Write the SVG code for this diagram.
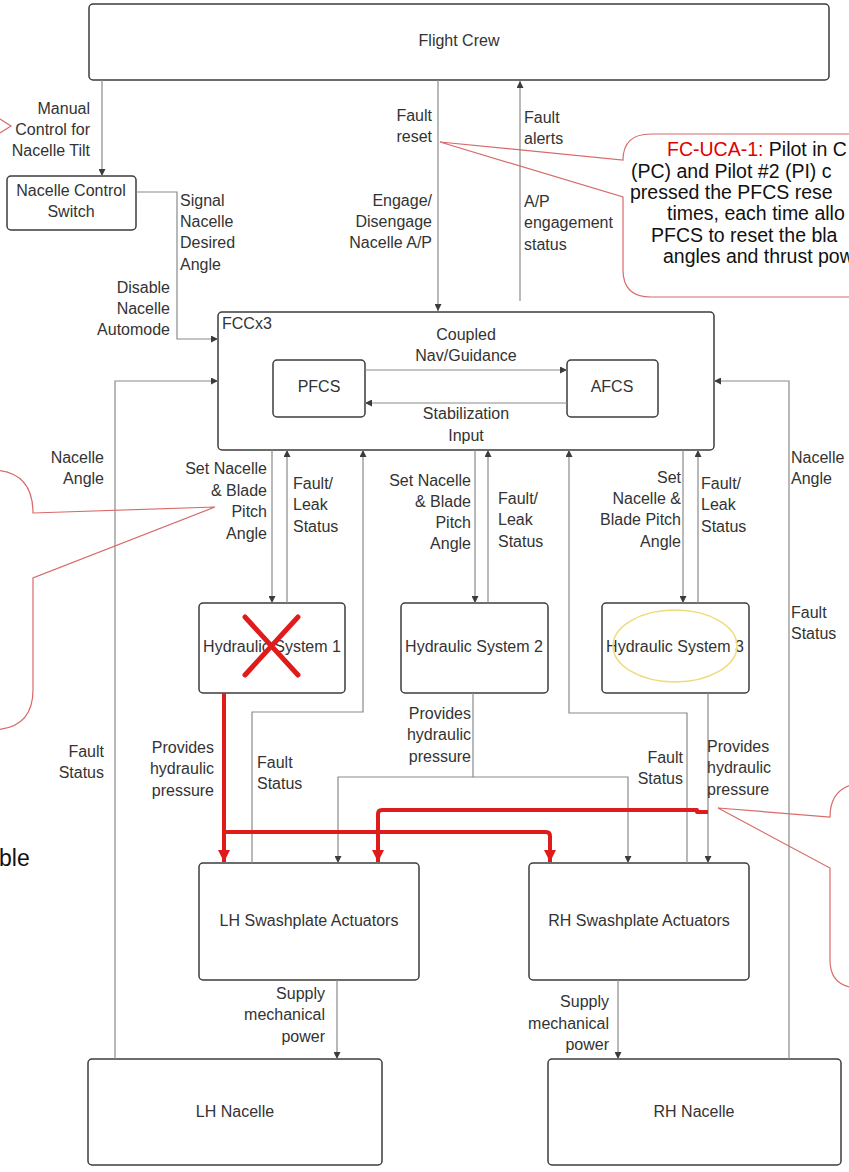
<svg xmlns="http://www.w3.org/2000/svg" width="849" height="1172" viewBox="0 0 849 1172">
  <style>
    .box { fill: #ffffff; stroke: #3c3c3c; stroke-width: 1.5; }
    .frame { fill: none; stroke: #3c3c3c; stroke-width: 1.5; }
    .lbl { font-family: "Liberation Sans", Arial, sans-serif; font-size: 16px; fill: #333333; }
    .mid { text-anchor: middle; }
    .end { text-anchor: end; }
    .wire { fill: none; stroke: #8a8a8a; stroke-width: 1.2; }
    .hot { fill: none; stroke: #e01b1b; stroke-width: 4; stroke-linejoin: round; }
    .note { fill: none; stroke: #d86a6a; stroke-width: 1.2; }
    .ntxt { font-family: "Liberation Sans", Arial, sans-serif; font-size: 19.5px; fill: #111111; }
  </style>
  <defs>
    <marker id="arr" viewBox="0 0 10 10" refX="10" refY="5" markerWidth="8" markerHeight="7" markerUnits="userSpaceOnUse" orient="auto">
      <path d="M0,0 L10,5 L0,10 z" fill="#3c3c3c"/>
    </marker>
    <marker id="arrRed" viewBox="0 0 10 10" refX="10" refY="5" markerWidth="14" markerHeight="12" markerUnits="userSpaceOnUse" orient="auto">
      <path d="M0,0 L10,5 L0,10 z" fill="#e01b1b"/>
    </marker>
  </defs>

  <rect width="849" height="1172" fill="#ffffff"/>

  <!-- nodes -->
  <g id="flight-crew">
    <rect class="box" x="89" y="4" width="740" height="76" rx="4"/>
    <text class="lbl mid" x="459" y="46">Flight Crew</text>
  </g>
  <g id="nacelle-control-switch">
    <rect class="box" x="7" y="176" width="129" height="54" rx="4"/>
    <text class="lbl mid"><tspan x="71" y="196">Nacelle Control</tspan><tspan x="71" y="217">Switch</tspan></text>
  </g>
  <g id="fcc">
    <rect class="frame" x="218" y="312" width="496" height="138" rx="4"/>
    <text class="lbl" x="222" y="329">FCCx3</text>
  </g>
  <g id="pfcs">
    <rect class="box" x="273" y="360" width="92" height="57" rx="4"/>
    <text class="lbl mid" x="319" y="392">PFCS</text>
  </g>
  <g id="afcs">
    <rect class="box" x="567" y="360" width="91" height="57" rx="4"/>
    <text class="lbl mid" x="612" y="392">AFCS</text>
  </g>
  <g id="hydraulic-1">
    <rect class="box" x="199" y="603" width="146" height="90" rx="4"/>
    <text class="lbl mid" x="272" y="652">Hydraulic System 1</text>
    <path d="M245,617 L298,675 M298,617 L245,675" stroke="#e01b1b" stroke-width="5" stroke-linecap="round"/>
  </g>
  <g id="hydraulic-2">
    <rect class="box" x="401" y="603" width="147" height="90" rx="4"/>
    <text class="lbl mid" x="474" y="652">Hydraulic System 2</text>
  </g>
  <g id="hydraulic-3">
    <rect class="box" x="602" y="603" width="147" height="90" rx="4"/>
    <text class="lbl mid" x="675" y="652">Hydraulic System 3</text>
    <ellipse cx="675" cy="646" rx="62" ry="36" fill="none" stroke="#eedc7a" stroke-width="1.5"/>
  </g>
  <g id="lh-swashplate">
    <rect class="box" x="199" y="863" width="220" height="117" rx="4"/>
    <text class="lbl mid" x="309" y="926">LH Swashplate Actuators</text>
  </g>
  <g id="rh-swashplate">
    <rect class="box" x="529" y="863" width="220" height="117" rx="4"/>
    <text class="lbl mid" x="639" y="926">RH Swashplate Actuators</text>
  </g>
  <g id="lh-nacelle">
    <rect class="box" x="88" y="1059" width="294" height="106" rx="4"/>
    <text class="lbl mid" x="235" y="1117">LH Nacelle</text>
  </g>
  <g id="rh-nacelle">
    <rect class="box" x="548" y="1059" width="293" height="106" rx="4"/>
    <text class="lbl mid" x="694" y="1117">RH Nacelle</text>
  </g>

  <!-- connectors -->
  <g id="connectors">
    <path class="wire" d="M102,80 V176" marker-end="url(#arr)"/>
    <path class="wire" d="M136,192 H177 V339 H218" marker-end="url(#arr)"/>
    <path class="wire" d="M438,80 V311" marker-end="url(#arr)"/>
    <path class="wire" d="M520,301 V81" marker-end="url(#arr)"/>
    <path class="wire" d="M365,370 H567" marker-end="url(#arr)"/>
    <path class="wire" d="M567,403 H365" marker-end="url(#arr)"/>
    <path class="wire" d="M115,1059 V381 H218" marker-end="url(#arr)"/>
    <path class="wire" d="M789,1059 V381 H714" marker-end="url(#arr)"/>
    <path class="wire" d="M272,450 V603" marker-end="url(#arr)"/>
    <path class="wire" d="M287,603 V450" marker-end="url(#arr)"/>
    <path class="wire" d="M475,450 V603" marker-end="url(#arr)"/>
    <path class="wire" d="M488,603 V450" marker-end="url(#arr)"/>
    <path class="wire" d="M683,450 V603" marker-end="url(#arr)"/>
    <path class="wire" d="M698,603 V450" marker-end="url(#arr)"/>
    <path class="wire" d="M252,863 V712 H363 V450" marker-end="url(#arr)"/>
    <path class="wire" d="M687,863 V713 H569 V450" marker-end="url(#arr)"/>
    <path class="wire" d="M473,693 V777 H338 V863" marker-end="url(#arr)"/>
    <path class="wire" d="M473,777 H628 V863" marker-end="url(#arr)"/>
    <path class="wire" d="M708,693 V863" marker-end="url(#arr)"/>
    <path class="wire" d="M337,980 V1059" marker-end="url(#arr)"/>
    <path class="wire" d="M618,980 V1059" marker-end="url(#arr)"/>

    <!-- highlighted hydraulic pressure paths -->
    <path class="hot" d="M224,693 V862" marker-end="url(#arrRed)"/>
    <path class="hot" d="M224,832 H546 Q550,832 550,836 V862" marker-end="url(#arrRed)"/>
    <path class="hot" d="M708,812 H697 V810 H382 Q378,810 378,814 V862" marker-end="url(#arrRed)"/>
  </g>

  <!-- connector labels -->
  <g id="labels" class="lbl">
    <text class="end"><tspan x="90" y="114">Manual</tspan><tspan x="90" y="135">Control for</tspan><tspan x="90" y="156">Nacelle Tilt</tspan></text>
    <text><tspan x="180" y="206">Signal</tspan><tspan x="180" y="227">Nacelle</tspan><tspan x="180" y="248">Desired</tspan><tspan x="180" y="270">Angle</tspan></text>
    <text class="end"><tspan x="170" y="293">Disable</tspan><tspan x="170" y="314">Nacelle</tspan><tspan x="170" y="335">Automode</tspan></text>
    <text class="end"><tspan x="432" y="121">Fault</tspan><tspan x="432" y="142">reset</tspan></text>
    <text class="end"><tspan x="432" y="206">Engage/</tspan><tspan x="432" y="227">Disengage</tspan><tspan x="432" y="248">Nacelle A/P</tspan></text>
    <text><tspan x="524" y="123">Fault</tspan><tspan x="524" y="144">alerts</tspan></text>
    <text><tspan x="524" y="207">A/P</tspan><tspan x="524" y="228">engagement</tspan><tspan x="524" y="250">status</tspan></text>
    <text class="mid"><tspan x="466" y="340">Coupled</tspan><tspan x="466" y="361">Nav/Guidance</tspan></text>
    <text class="mid"><tspan x="466" y="419">Stabilization</tspan><tspan x="466" y="441">Input</tspan></text>
    <text class="end"><tspan x="104" y="463">Nacelle</tspan><tspan x="104" y="484">Angle</tspan></text>
    <text><tspan x="791" y="463">Nacelle</tspan><tspan x="791" y="484">Angle</tspan></text>
    <text class="end"><tspan x="267" y="474">Set Nacelle</tspan><tspan x="267" y="496">&amp; Blade</tspan><tspan x="267" y="517">Pitch</tspan><tspan x="267" y="539">Angle</tspan></text>
    <text><tspan x="293" y="489">Fault/</tspan><tspan x="293" y="510">Leak</tspan><tspan x="293" y="532">Status</tspan></text>
    <text class="end"><tspan x="471" y="486">Set Nacelle</tspan><tspan x="471" y="507">&amp; Blade</tspan><tspan x="471" y="528">Pitch</tspan><tspan x="471" y="549">Angle</tspan></text>
    <text><tspan x="498" y="504">Fault/</tspan><tspan x="498" y="525">Leak</tspan><tspan x="498" y="547">Status</tspan></text>
    <text class="end"><tspan x="681" y="483">Set</tspan><tspan x="681" y="504">Nacelle &amp;</tspan><tspan x="681" y="525">Blade Pitch</tspan><tspan x="681" y="547">Angle</tspan></text>
    <text><tspan x="701" y="489">Fault/</tspan><tspan x="701" y="510">Leak</tspan><tspan x="701" y="532">Status</tspan></text>
    <text><tspan x="791" y="618">Fault</tspan><tspan x="791" y="639">Status</tspan></text>
    <text class="end"><tspan x="214" y="753">Provides</tspan><tspan x="214" y="774">hydraulic</tspan><tspan x="214" y="796">pressure</tspan></text>
    <text><tspan x="257" y="768">Fault</tspan><tspan x="257" y="789">Status</tspan></text>
    <text class="end"><tspan x="471" y="719">Provides</tspan><tspan x="471" y="740">hydraulic</tspan><tspan x="471" y="762">pressure</tspan></text>
    <text class="end"><tspan x="683" y="763">Fault</tspan><tspan x="683" y="784">Status</tspan></text>
    <text><tspan x="707" y="752">Provides</tspan><tspan x="707" y="773">hydraulic</tspan><tspan x="707" y="795">pressure</tspan></text>
    <text class="end"><tspan x="104" y="757">Fault</tspan><tspan x="104" y="778">Status</tspan></text>
    <text class="end"><tspan x="325" y="999">Supply</tspan><tspan x="325" y="1020">mechanical</tspan><tspan x="325" y="1042">power</tspan></text>
    <text class="end"><tspan x="609" y="1007">Supply</tspan><tspan x="609" y="1029">mechanical</tspan><tspan x="609" y="1050">power</tspan></text>
  </g>

  <!-- annotation callouts -->
  <g id="callout-fc-uca-1">
    <path class="note" d="M440,142 L623,160 Q623,134 651,134 H860 M440,142 L623,197 V270 Q623,297 651,297 H860"/>
    <text class="ntxt"><tspan x="667" y="156"><tspan fill="#e00000">FC-UCA-1:</tspan> Pilot in C</tspan></text>
    <text class="ntxt" x="631" y="178">(PC) and Pilot #2 (PI) c</text>
    <text class="ntxt" x="630" y="199">pressed the PFCS rese</text>
    <text class="ntxt" x="667" y="220">times, each time allo</text>
    <text class="ntxt" x="651" y="242">PFCS to reset the bla</text>
    <text class="ntxt" x="663" y="263">angles and thrust pow</text>
  </g>
  <g id="callout-left">
    <path class="note" d="M-10,470 Q33,470 33,513 L215,507 L33,578 V690 Q33,730 -10,730"/>
    <path class="note" d="M0,119 L11,126 L0,133"/>
    <text x="-1" y="866" font-family="Liberation Sans, Arial, sans-serif" font-size="23" fill="#111111">ble</text>
  </g>
  <g id="callout-right">
    <path class="note" d="M860,783 Q830,787 830,817 L718,808 L830,868 V960 Q830,988 860,988"/>
  </g>
</svg>
